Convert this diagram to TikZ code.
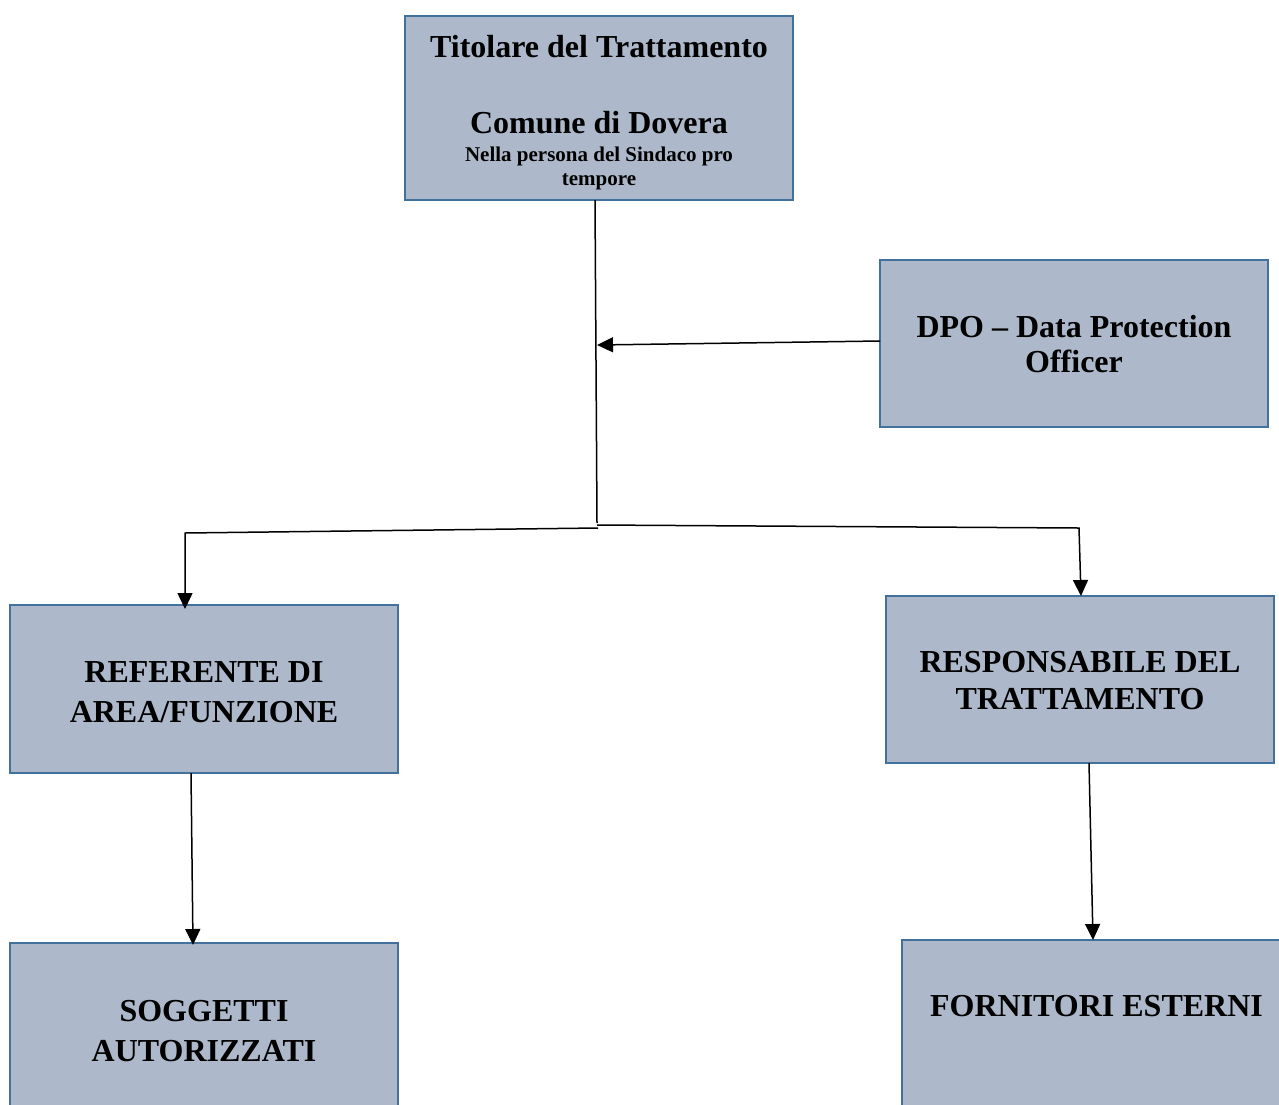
\documentclass[tikz,border=0pt]{standalone}
\usepackage{fontspec}
\setmainfont{Liberation Serif}
\usetikzlibrary{arrows.meta}
\definecolor{boxfill}{RGB}{173,185,202}
\definecolor{boxline}{RGB}{65,113,156}
\tikzset{
    orgbox/.style={
    rectangle,draw=boxline,fill=boxfill,line width=1.4pt,minimum width=194pt,inner sep=0pt
    },
    orgtxt/.style={
    align=center,inner sep=0pt,font=\bfseries\fontsize{16}{#1}\selectfont
    },
    orgtxt/.default=20pt,
    smalltxt/.style={align=center,inner sep=0pt,font=\bfseries\fontsize{10.5}{12.2}\selectfont},
  line/.style={draw, line width=0.75pt, -{Triangle[length=8pt,width=7.5pt]}},
  link/.style={draw, line width=0.75pt}
}

\begin{document}
\begin{tikzpicture}[x=0.5pt,y=-0.5pt]
    \clip (0,0) rectangle (1279,1104);
    \useasboundingbox (0,0) rectangle (1279,1104);

    % boxes
    \node[orgbox,minimum height=92pt] (tit) at (599,108) {};
    \node[orgbox,minimum height=83.5pt] (dpo) at (1074,343.5) {};
    \node[orgbox,minimum height=84pt] (ref) at (204,689) {};
    \node[orgbox,minimum height=83.5pt] (resp) at (1080,679.5) {};
    \node[orgbox,minimum height=86pt] (sog) at (204,1029) {};
    \node[orgbox,minimum height=86pt] (forn) at (1096,1026) {};

    % texts
    \node[orgtxt] (titA) at (599,47) {Titolare del Trattamento};
    \node[orgtxt] (titB) at (599,122.5) {Comune di Dovera};
    \node[smalltxt] (titC) at (599,168.5) {Nella persona del Sindaco pro\\ tempore};
    \node[orgtxt=17.5pt] (dpoT) at (1074,344) {DPO -- Data Protection\\ Officer};
    \node[orgtxt=20pt] (refT) at (204,692) {REFERENTE DI\\ AREA/FUNZIONE};
    \node[orgtxt=18.5pt] (respT) at (1080,681) {RESPONSABILE DEL\\ TRATTAMENTO};
    \node[orgtxt=20pt] (sogT) at (204,1031) {SOGGETTI\\ AUTORIZZATI};
    \node[orgtxt] (fornT) at (1096.5,1006) {FORNITORI ESTERNI};

    % connector points
    \coordinate (tout) at (595,200);
    \coordinate (jmid) at (597,523);
    \coordinate (dpoout) at (880,341);
    \coordinate (dpoin) at (597,345);
    \coordinate (jleft) at (598,528);
    \coordinate (lcorner) at (185,533);
    \coordinate (refin) at (185,609);
    \coordinate (jright) at (597,525);
    \coordinate (rcorner) at (1079,528);
    \coordinate (respin) at (1081,596);
    \coordinate (refout) at (191,773);
    \coordinate (sogin) at (193,945);
    \coordinate (respout) at (1089,763);
    \coordinate (fornin) at (1093,940);

    \path[link] (tout) -- (jmid);
    \path[line] (dpoout) -- (dpoin);
    \path[line] (jleft) -- (lcorner) -- (refin);
    \path[line] (jright) -- (rcorner) -- (respin);
    \path[line] (refout) -- (sogin);
    \path[line] (respout) -- (fornin);

\end{tikzpicture}
\end{document}
